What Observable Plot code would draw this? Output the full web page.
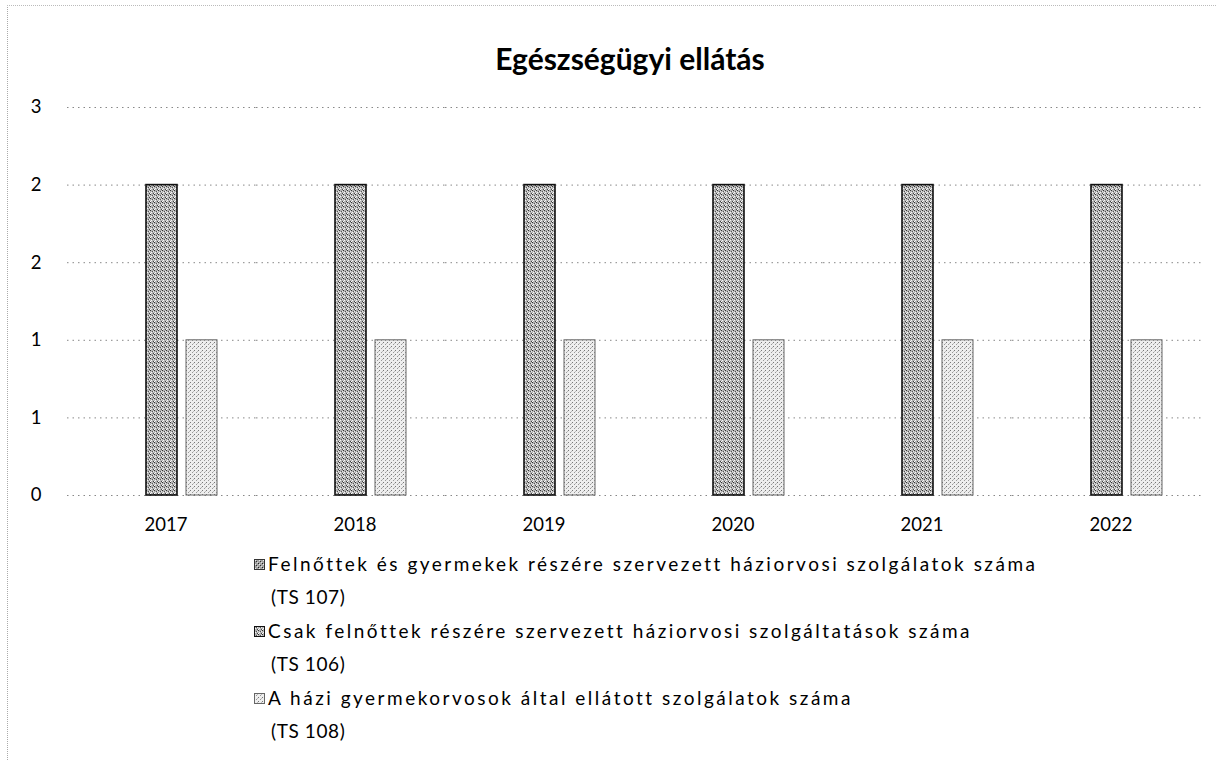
<!DOCTYPE html>
<html>
<head>
<meta charset="utf-8">
<script src="https://cdn.jsdelivr.net/npm/d3@7"></script>
<script src="https://cdn.jsdelivr.net/npm/@observablehq/plot@0.6"></script>
<style>
  html, body { margin: 0; padding: 0; background: #fff; }
  #wrap { position: relative; width: 1216px; height: 760px; overflow: hidden; font-family: Lato, "Open Sans", sans-serif; color: #000; }
  #frame { position: absolute; left: 7px; top: 5px; width: 1300px; height: 900px; border-left: 1px dotted #aaa; border-top: 1px dotted #bbb; }
  #title { position: absolute; left: 0; width: 1216px; top: 40px; text-align: center; font-size: 30px; font-weight: bold; padding-left: 44px; box-sizing: border-box; }
  #chart { position: absolute; left: 0; top: 90px; }
  #legend { position: absolute; left: 254px; top: 547px; font-size: 19px; letter-spacing: 2.5px; line-height: 33px; }
  .item { display: flex; align-items: flex-start; margin-bottom: 1px; }
  .item svg { margin-top: 12px; margin-right: 3px; flex: none; }
  .txt { line-height: 33px; }
  .sub { letter-spacing: 0.6px; padding-left: 3px; }
</style>
</head>
<body>
<div id="wrap">
  <div id="frame"></div>
  <div id="title">Egészségügyi ellátás</div>
  <div id="chart"></div>
  <div id="legend"></div>
</div>
<script>
const years = ["2017", "2018", "2019", "2020", "2021", "2022"];
const seriesKeys = ["TS 107", "TS 106", "TS 108"];
const seriesLabels = [
  ["Felnőttek és gyermekek részére szervezett háziorvosi szolgálatok száma", "(TS 107)"],
  ["Csak felnőttek részére szervezett háziorvosi szolgáltatások száma", "(TS 106)"],
  ["A házi gyermekorvosok által ellátott szolgálatok száma", "(TS 108)"]
];
const ts107 = [0, 0, 0, 0, 0, 0];
const ts106 = [2, 2, 2, 2, 2, 2];
const ts108 = [1, 1, 1, 1, 1, 1];
const yTicks = [0, 0.5, 1, 1.5, 2, 2.5];
const yTickLabels = ["0", "1", "1", "2", "2", "3"];

const seriesValues = [ts107, ts106, ts108];
const fills = ["url(#pat107)", "url(#pat106)", "url(#pat108)"];
const strokes = ["#333", "#111", "#666"];

const rows = [];
seriesKeys.forEach((k, si) => years.forEach((y, yi) => rows.push({year: y, key: k, value: seriesValues[si][yi]})));

const marks = [
  Plot.ruleY(yTicks, {stroke: "#888", strokeDasharray: "1.5,4", strokeWidth: 1})
];
seriesKeys.forEach((k, si) => {
  marks.push(Plot.barY(rows.filter(d => d.key === k && d.value > 0), {
    fx: "year", x: "key", y: "value",
    fill: fills[si], stroke: strokes[si], strokeWidth: si === 1 ? 1.6 : 1, inset: 0
  }));
});

const chart = Plot.plot({
  width: 1216,
  height: 460,
  marginLeft: 65,
  marginRight: 14,
  marginTop: 17,
  marginBottom: 55,
  style: {fontFamily: "Lato, 'Open Sans', sans-serif", fontSize: "18.5px", color: "#000", background: "transparent"},
  fx: {domain: years, padding: 0, label: null, axis: "bottom", tickSize: 0, tickPadding: 22},
  x: {domain: seriesKeys, axis: null, paddingInner: 0.22, paddingOuter: 0.93},
  y: {domain: [0, 2.5], ticks: yTicks, tickFormat: d => yTickLabels[yTicks.indexOf(d)], tickSize: 0, tickPadding: 26, label: null},
  marks
});

// texture patterns
const svg = d3.select(chart);
svg.selectAll("[aria-label='fx-axis tick label'] text").attr("dx", 4);
const defs = svg.insert("defs", ":first-child");
function pattern(id, bg, dots) {
  const p = defs.append("pattern").attr("id", id).attr("patternUnits", "userSpaceOnUse").attr("width", 4).attr("height", 4);
  p.append("rect").attr("width", 4).attr("height", 4).attr("fill", bg);
  dots.forEach(([x, y, c]) => p.append("rect").attr("x", x).attr("y", y).attr("width", 1).attr("height", 1).attr("fill", c));
}
pattern("pat106", "#b4b4b4", [[0,0,"#333"],[2,1,"#555"],[1,2,"#f4f4f4"],[3,3,"#444"],[3,1,"#e8e8e8"],[0,3,"#fff"]]);
pattern("pat107", "#a4a4a4", [[0,0,"#222"],[2,2,"#333"],[1,1,"#eee"],[3,3,"#ddd"]]);
pattern("pat108", "#eeeeee", [[0,0,"#777"],[2,2,"#999"],[3,1,"#bbb"]]);

document.getElementById("chart").appendChild(chart);

// legend
const legend = d3.select("#legend");
seriesLabels.forEach((lines, si) => {
  const item = legend.append("div").attr("class", "item");
  const sw = item.append("svg").attr("width", 11).attr("height", 11);
  sw.append("rect").attr("x", 0.5).attr("y", 0.5).attr("width", 10).attr("height", 10)
    .attr("fill", fills[si]).attr("stroke", strokes[si]).attr("stroke-width", 1);
  const t = item.append("div").attr("class", "txt");
  t.append("div").text(lines[0]);
  t.append("div").attr("class", "sub").text(lines[1]);
});
</script>
</body>
</html>
